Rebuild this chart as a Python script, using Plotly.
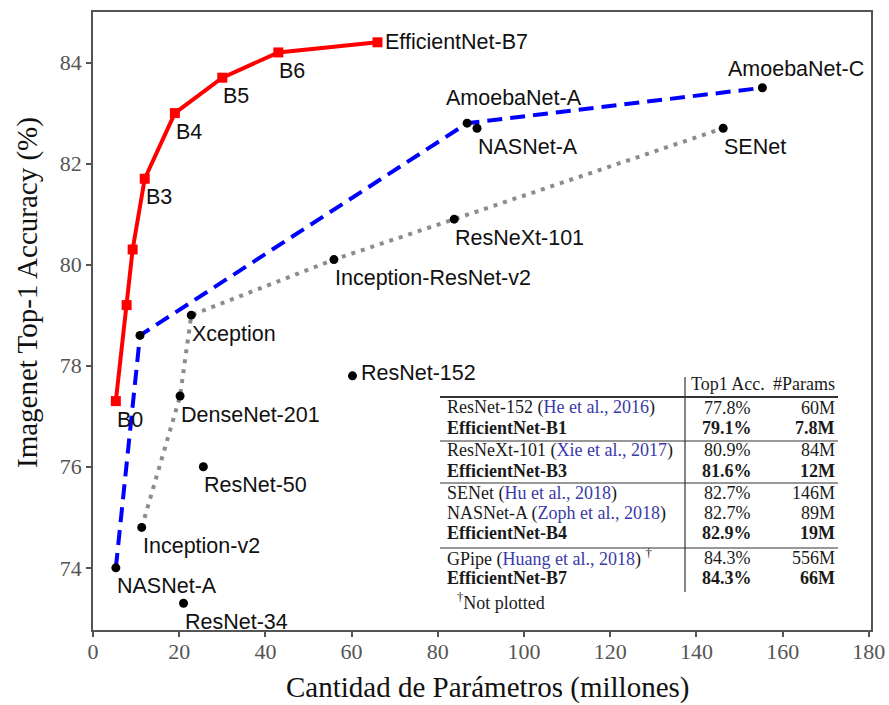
import plotly.graph_objects as go

# ---------------- data ----------------
eff_names = ["B0", "B1", "B2", "B3", "B4", "B5", "B6", "EfficientNet-B7"]
eff_params = [5.3, 7.8, 9.2, 12.0, 19.0, 30.0, 43.0, 66.0]
eff_acc = [77.3, 79.2, 80.3, 81.7, 83.0, 83.7, 84.2, 84.4]
eff_show_label = [True, False, False, True, True, True, True, True]

blue_names = ["NASNet-A", "", "AmoebaNet-A", "AmoebaNet-C"]
blue_params = [5.3, 10.9, 86.8, 155.3]
blue_acc = [74.0, 78.6, 82.8, 83.5]

gray_names = ["Inception-v2", "DenseNet-201", "Xception", "Inception-ResNet-v2", "ResNeXt-101", "SENet"]
gray_params = [11.3, 20.2, 22.8, 55.9, 83.8, 146.2]
gray_acc = [74.8, 77.4, 79.0, 80.1, 80.9, 82.7]

solo_names = ["NASNet-A", "ResNet-152", "ResNet-50", "ResNet-34"]
solo_params = [89.1, 60.2, 25.6, 21.0]
solo_acc = [82.7, 77.8, 76.0, 73.3]

x_ticks = [0, 20, 40, 60, 80, 100, 120, 140, 160, 180]
y_ticks = [74, 76, 78, 80, 82, 84]

table_models = ["ResNet-152", "EfficientNet-B1", "ResNeXt-101", "EfficientNet-B3", "SENet",
                "NASNet-A", "EfficientNet-B4", "GPipe", "EfficientNet-B7"]
table_cites = ["He et al., 2016", "", "Xie et al., 2017", "", "Hu et al., 2018",
               "Zoph et al., 2018", "", "Huang et al., 2018", ""]
table_acc = ["77.8%", "79.1%", "80.9%", "81.6%", "82.7%", "82.7%", "82.9%", "84.3%", "84.3%"]
table_params = ["60M", "7.8M", "84M", "12M", "146M", "89M", "19M", "556M", "66M"]
table_bold = [False, True, False, True, False, False, True, False, True]
table_dagger = [False, False, False, False, False, False, False, True, False]

# ---------------- layout helpers ----------------
W, H = 889, 705
L, R, T, B = 93, 18, 12, 75
PW, PH = W - L - R, H - T - B


def px(xp):
    return (xp - L) / PW


def py(yp):
    return (H - B - yp) / PH


fig = go.Figure()

fig.add_trace(go.Scatter(x=gray_params, y=gray_acc, mode="lines+markers",
                         line=dict(color="#8c8c8c", width=4, dash="4px,6px"),
                         marker=dict(color="black", size=9), showlegend=False))
fig.add_trace(go.Scatter(x=blue_params, y=blue_acc, mode="lines+markers",
                         line=dict(color="#0000ff", width=4, dash="15px,8px"),
                         marker=dict(color="black", size=9), showlegend=False))
fig.add_trace(go.Scatter(x=solo_params, y=solo_acc, mode="markers",
                         marker=dict(color="black", size=9), showlegend=False))
fig.add_trace(go.Scatter(x=eff_params, y=eff_acc, mode="lines+markers",
                         line=dict(color="#ff0000", width=4),
                         marker=dict(color="#ff0000", size=10, symbol="square"), showlegend=False))

lab_font = dict(family="Liberation Sans, Arial, sans-serif", size=21.5, color="#111111")
ann = []


def label(x, y, text, dx=-1, dy=-18.5):
    ann.append(dict(x=x, y=y, xref="x", yref="y", text=text, showarrow=False,
                    xanchor="left", yanchor="middle", xshift=dx, yshift=dy, font=lab_font))


for n, xv, yv, s in zip(eff_names, eff_params, eff_acc, eff_show_label):
    if not s:
        continue
    if n == "EfficientNet-B7":
        label(xv, yv, n, 6, 0)
    else:
        label(xv, yv, n)

for n, xv, yv in zip(blue_names, blue_params, blue_acc):
    if not n:
        continue
    if n == "AmoebaNet-A":
        label(xv, yv, n, -23, 25)
    elif n == "AmoebaNet-C":
        label(xv, yv, n, -36, 19)
    else:
        label(xv, yv, n)

for n, xv, yv in zip(gray_names, gray_params, gray_acc):
    label(xv, yv, n)

for n, xv, yv in zip(solo_names, solo_params, solo_acc):
    if n == "ResNet-152":
        label(xv, yv, n, 7, 3)
    else:
        label(xv, yv, n)

# axis titles
title_font = dict(family="Liberation Serif, Times New Roman, serif", size=29, color="#111111")
ann.append(dict(x=px(487), y=py(687), xref="paper", yref="paper", text="Cantidad de Parámetros (millones)",
                showarrow=False, xanchor="center", yanchor="middle", font=title_font))
ann.append(dict(x=px(27), y=py(293), xref="paper", yref="paper", text="Imagenet Top-1 Accuracy (%)",
                showarrow=False, xanchor="center", yanchor="middle", textangle=-90, font=title_font))

# ---------------- table ----------------
tfont = dict(family="Liberation Serif, Times New Roman, serif", size=18, color="#1a1a1a")
cite_color = "#3a3aa8"
row_y = [408, 428, 450, 471, 493, 513, 533, 558, 578]
text_left = 445
acc_center = 727
params_right = 837

ann.append(dict(x=px(689), y=py(384), xref="paper", yref="paper", text="Top1 Acc.", showarrow=False,
                xanchor="left", yanchor="middle", font=tfont))
ann.append(dict(x=px(params_right), y=py(384), xref="paper", yref="paper", text="#Params", showarrow=False,
                xanchor="right", yanchor="middle", font=tfont))

for i in range(len(table_models)):
    name = table_models[i]
    if table_bold[i]:
        txt = "<b>%s</b>" % name
        a_txt = "<b>%s</b>" % table_acc[i]
        p_txt = "<b>%s</b>" % table_params[i]
    else:
        txt = name
        if table_cites[i]:
            txt += " (<span style='color:%s'>%s</span>)" % (cite_color, table_cites[i])
        if table_dagger[i]:
            txt += " <sup>†</sup>"
        a_txt = table_acc[i]
        p_txt = table_params[i]
    yy = py(row_y[i])
    ann.append(dict(x=px(text_left), y=yy, xref="paper", yref="paper", text=txt, showarrow=False,
                    xanchor="left", yanchor="middle", font=tfont))
    ann.append(dict(x=px(acc_center), y=yy, xref="paper", yref="paper", text=a_txt, showarrow=False,
                    xanchor="center", yanchor="middle", font=tfont))
    ann.append(dict(x=px(params_right), y=yy, xref="paper", yref="paper", text=p_txt, showarrow=False,
                    xanchor="right", yanchor="middle", font=tfont))

ann.append(dict(x=px(455), y=py(601), xref="paper", yref="paper", text="<sup>†</sup>Not plotted",
                showarrow=False, xanchor="left", yanchor="middle", font=tfont))

shapes = []
for yl, wdt in [(397, 2), (441, 1.2), (483, 1.2), (548, 1.2)]:
    shapes.append(dict(type="line", xref="paper", yref="paper", x0=px(440), x1=px(838),
                       y0=py(yl), y1=py(yl), line=dict(color="#333333", width=wdt)))
shapes.append(dict(type="line", xref="paper", yref="paper", x0=px(685), x1=px(685),
                   y0=py(377), y1=py(592), line=dict(color="#333333", width=1.2)))

tick_font = dict(family="Liberation Serif, Times New Roman, serif", size=22, color="#555555")
fig.update_layout(
    width=W, height=H,
    margin=dict(l=L, r=R, t=T, b=B),
    paper_bgcolor="white", plot_bgcolor="white",
    annotations=ann, shapes=shapes,
    xaxis=dict(range=[0, 180.5], tickvals=x_ticks, ticks="outside", ticklen=5, tickwidth=1.5,
               tickcolor="#555555", tickfont=tick_font, showline=True, mirror=True, linecolor="#555555",
               linewidth=1.5, showgrid=False, zeroline=False, automargin=False, ticklabelstandoff=-4),
    yaxis=dict(range=[72.77, 85.0], tickvals=y_ticks, ticks="outside", ticklen=5, tickwidth=1.5,
               tickcolor="#555555", tickfont=tick_font, showline=True, mirror=True, linecolor="#555555",
               linewidth=1.5, showgrid=False, zeroline=False, automargin=False),
)

fig.write_html("out.html", config={"displayModeBar": False},
               post_script="document.body.style.margin='0';document.body.style.padding='0';")
